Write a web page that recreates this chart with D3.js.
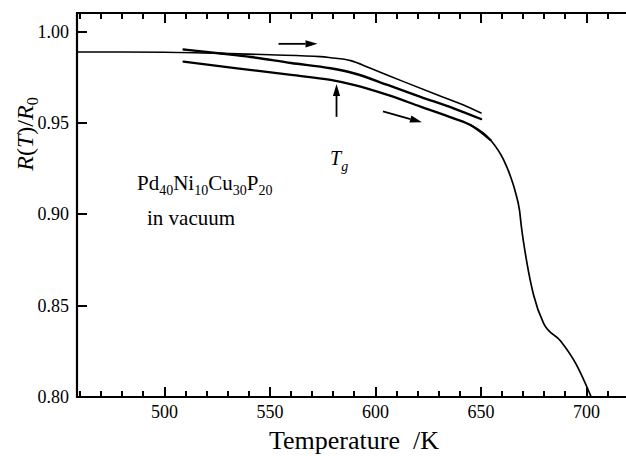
<!DOCTYPE html>
<html>
<head>
<meta charset="utf-8">
<script src="https://cdn.jsdelivr.net/npm/d3@7"></script>
<style>
  body { margin: 0; background: #fff; }
  svg { display: block; }
  text { font-family: "Liberation Serif", "Times New Roman", serif; fill: #000; }
</style>
</head>
<body>
<div id="chart"></div>
<script>
// first heating, upper thin branch
var heatT = [458.5, 480, 500, 526.5, 550, 573.9, 578.7, 588.2, 597.6, 613.3, 629.4, 641.7, 650];
var heatR = [0.989, 0.989, 0.9889, 0.9883, 0.9875, 0.9865, 0.9859, 0.9843, 0.9801, 0.9728, 0.9655, 0.960, 0.9556];
// cooling branch (thick, middle)
var coolT = [509, 526.5, 540.8, 560, 578.7, 589.6, 605.7, 621.3, 637, 650];
var coolR = [0.9904, 0.9882, 0.9863, 0.983, 0.9801, 0.9774, 0.9710, 0.9645, 0.9582, 0.9523];
// second heating, lower branch (thick part up to 650 K)
var reheatT = [509, 534.4, 560, 578.7, 589.6, 605.7, 621.3, 637, 645, 654.5];
var reheatR = [0.9837, 0.9801, 0.9765, 0.9737, 0.9710, 0.9655, 0.9591, 0.9527, 0.9490, 0.9408];
// crystallisation drop above 650 K
var dropT = [645, 654.5, 660.7, 664, 666.4, 668.2, 669.2, 671.6, 674.9, 679.6, 687.7, 695.3, 701, 702.2];
var dropR = [0.9490, 0.9408, 0.9299, 0.9207, 0.9118, 0.9025, 0.8926, 0.8745, 0.8559, 0.8405, 0.8307, 0.8175, 0.8033, 0.80];

var xMajor = [500, 550, 600, 650, 700];
var xMinor = [460, 470, 480, 490, 510, 520, 530, 540, 560, 570, 580, 590, 610, 620, 630, 640, 660, 670, 680, 690, 710];
var yMajor = [0.80, 0.85, 0.90, 0.95, 1.00];

var W = 626, H = 456;
var plotL = 77, plotR = 626, plotT = 13, plotB = 397;

var svg = d3.select('#chart').append('svg')
  .attr('width', W)
  .attr('height', H);

var x = d3.scaleLinear().domain([458.5, 718.7]).range([plotL, plotR]);
var y = d3.scaleLinear().domain([0.80, 1.0104]).range([plotB, plotT]);

function zip(a, b) { return a.map(function(d, i){ return [d, b[i]]; }); }

var line = d3.line()
  .x(function(d){ return x(d[0]); })
  .y(function(d){ return y(d[1]); })
  .curve(d3.curveMonotoneX);

//ticks first, as small filled rects (inward)
function xTickRects(vals, len) {
  svg.selectAll(null).data(vals).enter().append('rect')
    .attr('x', function(d){ return Math.round(x(d)) - 1; })
    .attr('y', plotB - len).attr('width', 2).attr('height', len)
    .attr('fill', '#000');
  svg.selectAll(null).data(vals).enter().append('rect')
    .attr('x', function(d){ return Math.round(x(d)) - 1; })
    .attr('y', plotT).attr('width', 2).attr('height', len)
    .attr('fill', '#000');
}
xTickRects(xMinor, 6);
xTickRects(xMajor, 10);
svg.selectAll(null).data(yMajor).enter().append('rect')
  .attr('x', plotL).attr('y', function(d){ return Math.round(y(d)) - 1; })
  .attr('width', 10).attr('height', 2)
  .attr('fill', '#000');

//curves
function curve(data, w) {
  svg.append('path').datum(data)
    .attr('d', line).attr('fill', 'none').attr('stroke', '#000')
    .attr('stroke-width', w).attr('stroke-linecap', 'round');
}
curve(zip(heatT, heatR), 1.6);
curve(zip(coolT, coolR), 2.4);
curve(zip(reheatT, reheatR), 2.3);
curve(zip(dropT, dropR), 1.7);

//frame (no right border)
svg.append('path')
  .attr('d', 'M' + plotR + ',' + plotT + 'H' + plotL + 'V' + plotB + 'H' + plotR)
  .attr('fill', 'none').attr('stroke', '#000').attr('stroke-width', 2.2);

//tick labels
svg.selectAll(null).data(xMajor).enter().append('text')
  .attr('x', function(d){ return x(d); }).attr('y', 418)
  .attr('text-anchor', 'middle').style('font-size', '18px')
  .text(d3.format('d'));
svg.selectAll(null).data(yMajor).enter().append('text')
  .attr('x', plotL - 8).attr('y', function(d){ return y(d); }).attr('dy', '0.33em')
  .attr('text-anchor', 'end').style('font-size', '18px')
  .text(d3.format('.2f'));

//axis titles
svg.append('text')
  .attr('x', 354).attr('y', 449)
  .attr('text-anchor', 'middle')
  .style('font-size', '26px')
  .attr('xml:space', 'preserve')
  .text('Temperature  /K');

var yl = svg.append('text')
  .attr('transform', 'translate(33,134) rotate(-90)')
  .attr('text-anchor', 'middle')
  .style('font-size', '24px');
yl.append('tspan').style('font-style', 'italic').text('R');
yl.append('tspan').text('(');
yl.append('tspan').style('font-style', 'italic').text('T');
yl.append('tspan').text(')/');
yl.append('tspan').style('font-style', 'italic').text('R');
yl.append('tspan').attr('dy', 5).style('font-size', '16px').text('0');

//composition label
var comp = svg.append('text').attr('x', 137).attr('y', 190).style('font-size', '21px');
[['Pd', '40'], ['Ni', '10'], ['Cu', '30'], ['P', '20']].forEach(function(p, i){
  comp.append('tspan').attr('dy', i ? -5 : 0).text(p[0]);
  comp.append('tspan').attr('dy', 5).style('font-size', '14px').text(p[1]);
});
svg.append('text').attr('x', 147).attr('y', 225).style('font-size', '21px').text('in vacuum');

//Tg label
var tg = svg.append('text').attr('x', 330).attr('y', 165).style('font-size', '20px').style('font-style', 'italic');
tg.append('tspan').text('T');
tg.append('tspan').attr('dy', 6).style('font-size', '14px').text('g');

//arrows
function arrow(x1, y1, x2, y2) {
  var a = Math.atan2(y2 - y1, x2 - x1), L = 12, w = 3.6;
  var bx = x2 - L * Math.cos(a), by = y2 - L * Math.sin(a);
  svg.append('line').attr('x1', x1).attr('y1', y1).attr('x2', bx).attr('y2', by)
    .attr('stroke', '#000').attr('stroke-width', 1.8);
  svg.append('path')
    .attr('d', 'M' + x2 + ',' + y2 +
      'L' + (bx + w * Math.sin(a)) + ',' + (by - w * Math.cos(a)) +
      'L' + (bx - w * Math.sin(a)) + ',' + (by + w * Math.cos(a)) + 'Z')
    .attr('fill', '#000');
}
arrow(x(554), y(0.9935), x(572.5), y(0.9935));
arrow(x(603.5), y(0.9565), x(622), y(0.9505));
arrow(x(581.5), y(0.9535), x(581.5), y(0.9715));
</script>
</body>
</html>
